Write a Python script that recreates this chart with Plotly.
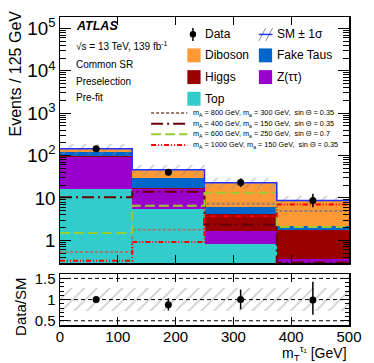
import plotly.graph_objects as go

# binning in m_T(tau1) [GeV]
bin_edges = [0, 125, 250, 375, 500]
bin_centers = [62.5, 187.5, 312.5, 437.5]
bin_width = 125

# background yields per bin (stacked bottom -> top)
top = [15.9, 5.6, 0.8, 0.05]
ztautau = [75.0, 10.3, 0.86, 0.32]
higgs = [5.0, 1.5, 2.54, 1.41]
fake_taus = [24.0, 12.5, 1.9, 0.35]
diboson = [24.0, 16.1, 16.7, 6.57]
sm_rel_unc = [0.27, 0.27, 0.27, 0.27]

# observed data
data = [145, 40.5, 23, 8.7]
data_err_up = [12.5, 7.4, 5.8, 3.8]
data_err_dn = [11.5, 6.3, 4.8, 2.7]

ratio = [1.0, 0.88, 1.0, 0.99]
ratio_err_up = [0.07, 0.15, 0.24, 0.43]
ratio_err_dn = [0.07, 0.14, 0.23, 0.35]

# signal hypotheses
sig_800_300 = [0.53, 1.78, 7.3, 4.9]
sig_400_150 = [10.4, 14.0, 2.34, 0.3]
sig_600_250 = [1.49, 6.5, 13.2, 2.06]
sig_1000_150 = [0.33, 0.91, 3.7, 7.0]

FONT = "Liberation Sans, Arial, Helvetica, sans-serif"
W, H = 374, 363
X0, X1, Y0, Y1 = 60, 355, 16, 325  # plot area in pixels
ML, MR, MT, MB = X0, W - X1, Y0, H - Y1
PW, PH = X1 - X0, Y1 - Y0


def px(x):
    return (x - X0) / PW


def py(y):
    return (Y1 - y) / PH


stack = [
    ("Top", top, "#33CCCC"),
    ("Z(ττ)", ztautau, "#9900CC"),
    ("Higgs", higgs, "#990000"),
    ("Fake Taus", fake_taus, "#0066CC"),
    ("Diboson", diboson, "#FF9933"),
]

signals = [
    ("m<sub>A</sub> = 800 GeV, m<sub>a</sub> = 300 GeV,  sin Θ = 0.35", sig_800_300, "#9A7B70", "3px,2px"),
    ("m<sub>A</sub> = 400 GeV, m<sub>a</sub> = 150 GeV,  sin Θ = 0.35", sig_400_150, "#660000", "12px,4px,2px,4px"),
    ("m<sub>A</sub> = 600 GeV, m<sub>a</sub> = 250 GeV,  sin Θ = 0.7", sig_600_250, "#99CC33", "10px,4px"),
    ("m<sub>A</sub> = 1000 GeV, m<sub>a</sub> = 150 GeV,  sin Θ = 0.35", sig_1000_150, "#FF0000", "5px,2px,1px,2px,1px,2px"),
]

fig = go.Figure()

base = [1e-3] * len(bin_centers)
for name, vals, color in stack:
    fig.add_trace(go.Bar(
        x=bin_centers, y=vals, base=base, width=bin_width, name=name,
        marker=dict(color=color, line_width=0), showlegend=False,
        xaxis="x", yaxis="y",
    ))
    base = [b + v for b, v in zip(base, vals)]
total = base

hatch = dict(shape="/", fgcolor="#8A8A8A", size=9, solidity=0.16)

# SM uncertainty band
fig.add_trace(go.Bar(
    x=bin_centers, y=[2 * t * u for t, u in zip(total, sm_rel_unc)],
    base=[t * (1 - u) for t, u in zip(total, sm_rel_unc)], width=bin_width,
    marker=dict(color="rgba(0,0,0,0)", line_width=0, pattern=hatch),
    showlegend=False, xaxis="x", yaxis="y",
))

for name, vals, color, dash in signals:
    fig.add_trace(go.Scatter(
        x=bin_edges, y=vals + [vals[-1]], mode="lines", name=name,
        line=dict(shape="hv", color=color, width=2, dash=dash),
        showlegend=False, xaxis="x", yaxis="y",
    ))

fig.add_trace(go.Scatter(
    x=bin_edges, y=total + [total[-1]], mode="lines",
    line=dict(shape="hv", color="#2233FF", width=1.5),
    showlegend=False, xaxis="x", yaxis="y",
))

fig.add_trace(go.Scatter(
    x=bin_centers, y=data, mode="markers", name="Data",
    marker=dict(color="black", size=7),
    error_y=dict(type="data", array=data_err_up, arrayminus=data_err_dn,
                 color="black", thickness=1.5, width=0),
    showlegend=False, xaxis="x", yaxis="y",
))

# ratio panel
fig.add_trace(go.Bar(
    x=bin_centers, y=[2 * u for u in sm_rel_unc], base=[1 - u for u in sm_rel_unc],
    width=bin_width,
    marker=dict(color="rgba(0,0,0,0)", line_width=0, pattern=hatch),
    showlegend=False, xaxis="x2", yaxis="y2",
))
fig.add_trace(go.Scatter(
    x=bin_centers, y=ratio, mode="markers",
    marker=dict(color="black", size=7),
    error_y=dict(type="data", array=ratio_err_up, arrayminus=ratio_err_dn,
                 color="black", thickness=1.5, width=0),
    showlegend=False, xaxis="x2", yaxis="y2",
))

shapes = []
for v in [0.5, 1.0, 1.5]:
    shapes.append(dict(type="line", xref="x2 domain", yref="y2", x0=0, x1=1, y0=v, y1=v,
                       line=dict(color="black", width=1, dash="4px,3px"), layer="above"))

# hand-drawn legend
annotations = []


def text(x, y, s, size, **kw):
    annotations.append(dict(x=px(x), y=py(y), xref="paper", yref="paper", text=s,
                            showarrow=False, xanchor="left", yanchor="middle",
                            font=dict(family=FONT, size=size, color="black"), **kw))


def box(x0, x1, y0, y1, color):
    shapes.append(dict(type="rect", xref="paper", yref="paper", x0=px(x0), x1=px(x1),
                       y0=py(y1), y1=py(y0), fillcolor=color, line=dict(width=0)))


def seg(x0, y0, x1, y1, color, width=1, dash="solid"):
    shapes.append(dict(type="line", xref="paper", yref="paper", x0=px(x0), x1=px(x1),
                       y0=py(y0), y1=py(y1), line=dict(color=color, width=width, dash=dash)))


# Data symbol
seg(195.7, 27, 195.7, 40, "black", 1.5)
shapes.append(dict(type="circle", xref="paper", yref="paper", x0=px(192.4), x1=px(199),
                   y0=py(36.6), y1=py(30), fillcolor="black", line=dict(width=0)))
text(206, 33.5, "Data", 12)
# SM +- 1 sigma symbol
seg(263, 40, 270, 27, "#8C8C8C", 1)
seg(270, 40, 277, 27, "#8C8C8C", 1)
seg(263, 33.5, 277, 33.5, "#2233FF", 1.5)
text(279.5, 33.5, "SM ± 1σ", 12)

text(206, 54.5, "Diboson", 12)
box(190, 203.5, 47.5, 61.5, "#FF9933")
text(279.5, 54.5, "Fake Taus", 12)
box(263, 276.5, 47.5, 61.5, "#0066CC")
text(206, 76.3, "Higgs", 12)
box(190, 203.5, 69.3, 83.3, "#990000")
text(279.5, 76.3, "Z(ττ)", 12)
box(263, 276.5, 69.3, 83.3, "#9900CC")
text(206, 98, "Top", 12)
box(190, 203.5, 91, 105, "#33CCCC")

for i, (name, vals, color, dash) in enumerate(signals):
    yy = 112.3 + i * 10.7
    seg(153, yy, 190, yy, color, 2, dash)
    text(194, yy, name, 7.3)

# ATLAS label block
text(74, 25, "<b><i>ATLAS</i></b>", 12.5)
text(74, 45, "√s = 13 TeV, 139 fb<sup>-1</sup>", 10)
text(74, 63.5, "Common SR", 10)
text(74, 80.5, "Preselection", 10)
text(74, 97, "Pre-fit", 10)

# axis titles
annotations.append(dict(x=px(14.5), y=py(7), xref="paper", yref="paper",
                        text="Events / 125 GeV", textangle=-90, showarrow=False,
                        xanchor="center", yanchor="top",
                        font=dict(family=FONT, size=16, color="black")))
annotations.append(dict(x=px(19), y=py(307), xref="paper", yref="paper",
                        text="Data/SM", textangle=-90, showarrow=False,
                        xanchor="center", yanchor="middle",
                        font=dict(family=FONT, size=15, color="black")))
annotations.append(dict(x=px(355), y=py(353), xref="paper", yref="paper",
                        text="m<sub>T</sub><sup>τ₁</sup> [GeV]", showarrow=False,
                        xanchor="right", yanchor="middle",
                        font=dict(family=FONT, size=14, color="black")))

axis_common = dict(showline=True, linecolor="black", linewidth=1.5, mirror="allticks",
                   ticks="inside", tickcolor="black", showgrid=False, zeroline=False,
                   tickfont=dict(family=FONT, size=15, color="black"))

fig.update_layout(
    width=W, height=H,
    margin=dict(l=ML, r=MR, t=MT, b=MB),
    paper_bgcolor="white", plot_bgcolor="white",
    barmode="overlay", bargap=0,
    font=dict(family=FONT, color="black"),
    xaxis=dict(domain=[0, 1], anchor="y", range=[0, 500], dtick=100, ticklen=8,
               showticklabels=False, **axis_common),
    yaxis=dict(domain=[62 / PH, 1], anchor="x", type="log", range=[-0.54, 5.27],
               dtick=1, exponentformat="power", ticklen=11,
               minor=dict(ticks="inside", ticklen=6, dtick="D1", tickcolor="black"),
               **axis_common),
    xaxis2=dict(domain=[0, 1], anchor="y2", range=[0, 500], dtick=100, ticklen=8,
                matches="x", ticklabelstandoff=-3, **axis_common),
    yaxis2=dict(domain=[0, 51 / PH], anchor="x2", range=[0.4, 1.6],
                tickvals=[0.5, 1, 1.5], ticktext=["0.5", "1", "1.5"], ticklen=8,
                minor=dict(ticks="inside", ticklen=4, dtick=0.1, tickcolor="black"),
                **axis_common),
    shapes=shapes,
    annotations=annotations,
)

# the page's default body margin would shift the figure by 8px
fig.write_html("out.html", config={"displayModeBar": False, "staticPlot": True},
               post_script="document.body.style.margin = '0';")
